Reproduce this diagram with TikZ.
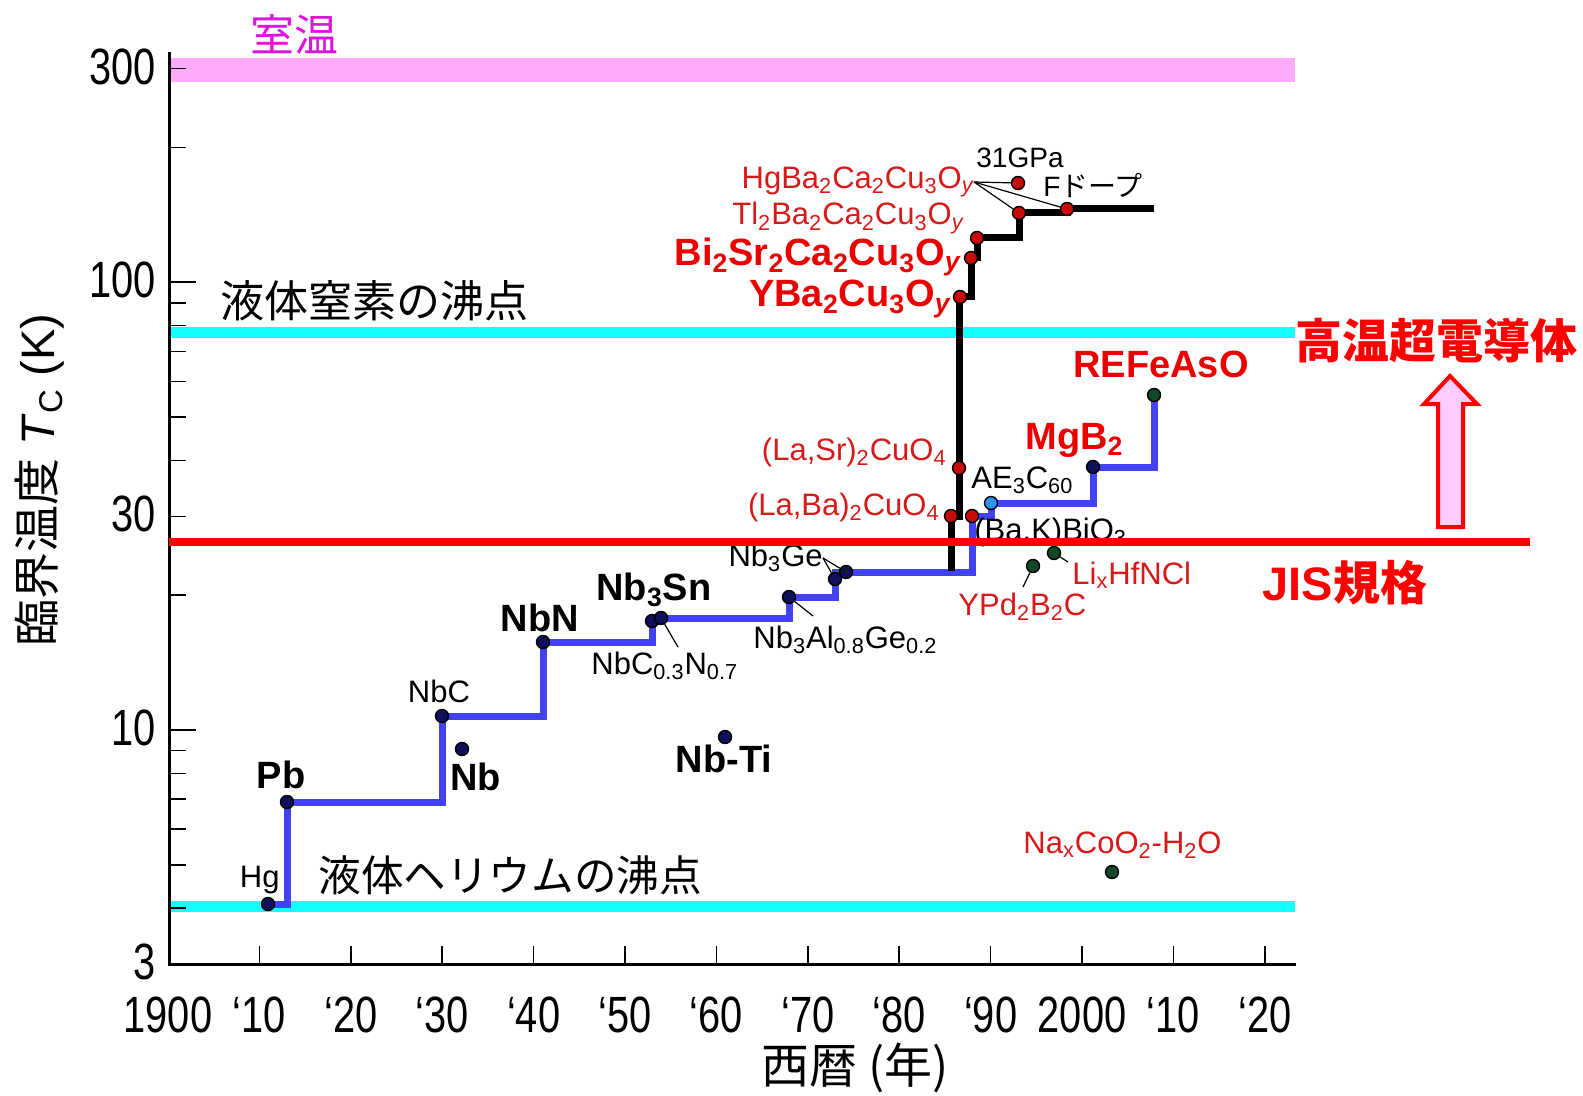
\documentclass[tikz,border=0pt]{standalone}
\usepackage{fontspec}
\setmainfont{Liberation Sans}
\newfontfamily\jpfont{Noto Sans CJK JP}
\newfontfamily\narrowfont[FakeStretch=0.78]{Liberation Sans}
\usetikzlibrary{positioning}

\definecolor{bandpink}{RGB}{255,170,250}
\definecolor{lncyan}{RGB}{20,255,255}
\definecolor{stepblue}{RGB}{66,66,240}
\definecolor{dotnavy}{RGB}{16,16,90}
\definecolor{dotred}{RGB}{200,10,10}
\definecolor{dotgreen}{RGB}{20,70,40}
\definecolor{dotsky}{RGB}{40,150,240}
\definecolor{labred}{RGB}{215,25,25}
\definecolor{boldred}{RGB}{235,0,0}
\definecolor{jisred}{RGB}{255,0,0}
\definecolor{roommag}{RGB}{220,20,220}
\definecolor{arrowpink}{RGB}{255,204,255}

\newcommand{\subs}[1]{\textsubscript{#1}}

\tikzset{
  stepline/.style={line width=3.5pt, line join=miter},
  dot/.style={circle, draw=black, line width=0.7pt, fill=dotnavy, inner sep=0pt, minimum size=6.5pt},
  cupdot/.style={dot, fill=dotred},
  newdot/.style={dot, fill=dotgreen},
  lab/.style={inner sep=0pt, font=\fontsize{15.5}{18}\selectfont},
  smalllab/.style={inner sep=0pt, font=\fontsize{14}{16}\selectfont},
  redlab/.style={lab, text=labred},
  boldlab/.style={inner sep=0pt, font=\fontsize{19}{22}\selectfont\bfseries},
  redbold/.style={boldlab, text=boldred},
  jplab/.style={inner sep=0pt, font=\jpfont\fontsize{22}{24}\selectfont},
  ticklab/.style={inner sep=0pt, font=\narrowfont\fontsize{25.5}{28}\selectfont},
  leader/.style={line width=0.6pt},
}

\begin{document}
\begin{tikzpicture}[x=0.5pt,y=-0.5pt]
    \useasboundingbox (0,0) rectangle (1583,1096);
    % Draw room temperature band and boiling points
    \draw[line width=12pt, bandpink] (169,70) -- (1295,70);
    \draw[line width=5.5pt, lncyan] (169,333) -- (1295,333);
    \draw[line width=5.5pt, lncyan] (169,906) -- (1295,906);

    % Draw axes
    \draw[line width=1.5pt] (169,52) -- (169,964) -- (1296,964);
    % Draw year ticks
    \foreach \k in {1,...,12}
      \draw[line width=0.8pt] (168+91.4*\k,964) -- (168+91.4*\k,946);
    \foreach \k/\yr in {0/1900,1/‘10,2/‘20,3/‘30,4/‘40,5/‘50,6/‘60,7/‘70,8/‘80,9/‘90,10/2000,11/‘10,12/‘20}
      \node[ticklab] (yr\k) at (168+91.4*\k,1015) {\yr};
    % Draw temperature ticks (log scale)
    \foreach \t in {300,200,90,80,70,60,50,40,30,20,9,8,7,6,5,4}
      \draw[line width=0.8pt] (169,{964-194.43*ln(\t/3)}) -- ++(17,0);
    \foreach \t in {100,10}
      \draw[line width=0.8pt] (169,{964-194.43*ln(\t/3)}) -- ++(27,0);
    \foreach \t in {300,100,30,10,3}
      \node[ticklab, anchor=east] (t\t) at (156,{962-194.43*ln(\t/3)}) {\t};

    % Points of the staircases
    \coordinate (hg) at (268,904);
    \coordinate (pb) at (287,802);
    \coordinate (nbc) at (442,716);
    \coordinate (nbn) at (543,642);
    \coordinate (nbsn) at (652,621);
    \coordinate (nbcn) at (661,618);
    \coordinate (nbalge) at (789,597);
    \coordinate (nbgea) at (835,579);
    \coordinate (nbgeb) at (846,572);
    \coordinate (bakbio) at (972,516);
    \coordinate (aec) at (991,503);
    \coordinate (mgb) at (1093,467);
    \coordinate (refeaso) at (1154,395);
    \coordinate (cstart) at (951,571);
    \coordinate (lbco) at (951,516);
    \coordinate (lsco) at (959,468);
    \coordinate (ybco) at (960,297);
    \coordinate (bscco) at (971,258);
    \coordinate (tbcco) at (977,238);
    \coordinate (hbcco) at (1019,213);
    \coordinate (hgf) at (1067,209);
    \coordinate (cend) at (1154,209);
    \coordinate (hgp) at (1018,183);
    \coordinate (nb) at (462,749);
    \coordinate (nbti) at (725,737);
    \coordinate (ypd) at (1033,566);
    \coordinate (lihf) at (1054,553);
    \coordinate (naco) at (1112,872);

    % Draw conventional superconductors
    \draw[stepline, stepblue] (hg) -| (pb) -| (nbc) -| (nbn) -| (nbsn) |- (nbcn)
        -| (nbalge) -| (nbgea) |- (nbgeb) -| (bakbio) -| (aec) -| (mgb) -| (refeaso);
    % Draw copper oxides
    \draw[stepline, black] (cstart) -- (lbco) -| (lsco) |- (ybco) -| (bscco)
        -| (tbcco) -| (hbcco) -| (hgf) -- (cend);

    % Draw data points
    \foreach \n in {hg,pb,nbc,nbn,nbsn,nbcn,nbalge,nbgea,nbgeb,mgb,nb,nbti}
      \node[dot] (d\n) at (\n) {};
    \foreach \n in {bakbio,lbco,lsco,ybco,bscco,tbcco,hbcco,hgf,hgp}
      \node[cupdot] (d\n) at (\n) {};
    \foreach \n in {refeaso,ypd,lihf,naco}
      \node[newdot] (d\n) at (\n) {};
    \node[dot, fill=dotsky] (daec) at (aec) {};

    % Labels of conventional superconductors
    \node[lab, anchor=east] (hglab) at (280,880) {Hg};
    \node[boldlab] (pblab) at (281,775) {Pb};
    \node[boldlab, anchor=west] (nblab) at (450,777) {Nb};
    \node[lab] (nbclab) at (439,691) {NbC};
    \node[boldlab] (nbnlab) at (540,618) {NbN};
    \node[boldlab] (nbsnlab) at (654,590) {Nb\subs{3}Sn};
    \node[lab, anchor=west] (nbcnlab) at (591,666) {NbC\subs{0.3}N\subs{0.7}};
    \node[boldlab] (nbtilab) at (724,759) {Nb-Ti};
    \node[lab, anchor=west] (nbalgelab) at (753,640) {Nb\subs{3}Al\subs{0.8}Ge\subs{0.2}};
    \node[lab, anchor=east] (nbgelab) at (823,558) {Nb\subs{3}Ge};
    \node[lab, anchor=west] (aeclab) at (971,480) {AE\subs{3}C\subs{60}};
    \node[lab, anchor=west] (bakbiolab) at (974,532) {(Ba,K)BiO\subs{3}};
    \node[redbold, anchor=west] (mgblab) at (1025,440) {MgB\subs{2}};
    \node[redbold, anchor=west] (refeasolab) at (1073,364) {REFeAsO};
    \node[redlab, anchor=west] (ypdlab) at (958,607) {YPd\subs{2}B\subs{2}C};
    \node[redlab, anchor=west] (lihflab) at (1072,575) {Li\subs{x}HfNCl};
    \node[redlab, anchor=west] (nacolab) at (1023,845) {Na\subs{x}CoO\subs{2}-H\subs{2}O};

    % Labels of copper oxides
    \node[redlab, anchor=east] (lbcolab) at (940,507) {(La,Ba)\subs{2}CuO\subs{4}};
    \node[redlab, anchor=east] (lscolab) at (947,452) {(La,Sr)\subs{2}CuO\subs{4}};
    \node[redbold, anchor=east] (ybcolab) at (951,299) {YBa\subs{2}Cu\subs{3}O\subs{\itshape y}};
    \node[redbold, anchor=east] (bsccolab) at (961,257) {Bi\subs{2}Sr\subs{2}Ca\subs{2}Cu\subs{3}O\subs{\itshape y}};
    \node[redlab, anchor=east] (tbccolab) at (964,218) {Tl\subs{2}Ba\subs{2}Ca\subs{2}Cu\subs{3}O\subs{\itshape y}};
    \node[redlab, anchor=east] (hbccolab) at (974,182) {HgBa\subs{2}Ca\subs{2}Cu\subs{3}O\subs{\itshape y}};
    \node[smalllab, anchor=west] (gpalab) at (976,158) {31GPa};
    \node[smalllab, anchor=west] (hgflab) at (1043,185) {F{\jpfont ドープ}};

    % Leader lines
    \coordinate (nbcnend) at (678,647);
    \coordinate (nbalgeend) at (813,616);
    \coordinate (ypdend) at (1023,587);
    \coordinate (lihfend) at (1068,562);
    \draw[leader] (hbccolab.east) -- (dhgp);
    \draw[leader] (hbccolab.east) -- (dhbcco);
    \draw[leader] (hbccolab.east) -- (dhgf);
    \draw[leader] (nbgelab.east) -- (dnbgea);
    \draw[leader] (nbgelab.east) -- (dnbgeb);
    \draw[leader] (dnbcn) -- (nbcnend);
    \draw[leader] (dnbalge) -- (nbalgeend);
    \draw[leader] (dypd) -- (ypdend);
    \draw[leader] (dlihf) -- (lihfend);

    % Draw JIS line and arrow
    \draw[line width=3.75pt, jisred] (169,542) -- (1530,542);
    \draw[line width=2pt, jisred, fill=arrowpink] (1438,527) -- (1438,404) -- (1424,404)
        -- (1450,376) -- (1477,404) -- (1463,404) -- (1463,527) -- cycle;

    % Reference lines texts
    \node[jplab, text=roommag] (roomlab) at (294,34) {室温};
    \node[jplab, anchor=west] (ln2lab) at (220,301) {液体窒素の沸点};
    \node[jplab, anchor=west, font=\jpfont\fontsize{21.3}{24}\selectfont] (lhelab) at (318,875) {液体ヘリウムの沸点};
    \node[inner sep=0pt, text=jisred, font=\jpfont\fontsize{23.5}{26}\selectfont\bfseries, anchor=west] (htslab) at (1295,341) {高温超電導体};
    \node[inner sep=0pt, text=jisred, font=\fontsize{23.5}{26}\selectfont\bfseries] (jislab) at (1345,583) {JIS{\jpfont 規格}};

    % Axis titles
    \node[inner sep=0pt, rotate=90, font=\fontsize{23.5}{26}\selectfont] (ylab) at (40,480)
        {{\jpfont 臨界温度} \textit{T}\subs{C} (K)};
    \node[inner sep=0pt, font=\jpfont\fontsize{24}{26}\selectfont] (xlab) at (855,1068) {西暦 (年)};
\end{tikzpicture}
\end{document}
